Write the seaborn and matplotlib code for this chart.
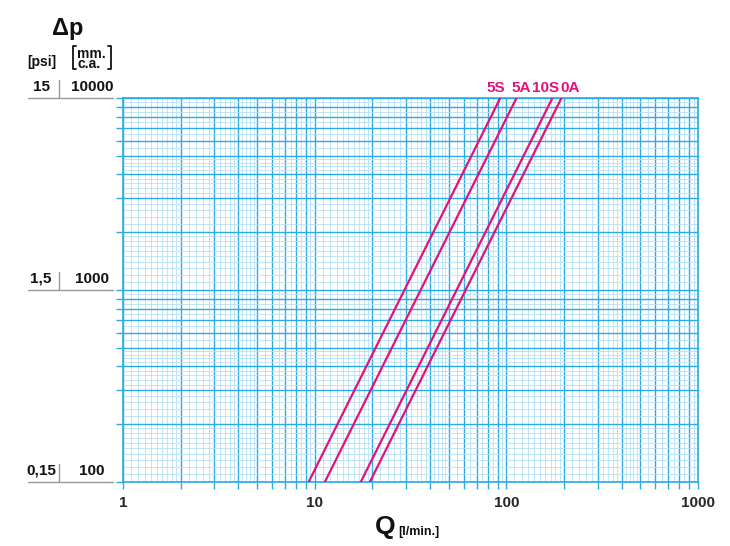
import numpy as np
import pandas as pd
import matplotlib
matplotlib.use("Agg")
import matplotlib.pyplot as plt
import seaborn as sns
from matplotlib.ticker import FixedLocator, FuncFormatter, NullFormatter
from matplotlib.lines import Line2D
import matplotlib.transforms as mtransforms

# ---- data ----
series = ["5S", "5A", "10S", "0A"]
q_low = [9.3, 11.3, 17.4, 19.4]       # Q [l/min] at dp = 100 mm c.a.
q_high = [93, 113, 174, 194]           # Q [l/min] at dp = 10000 mm c.a.
dp_low = [100, 100, 100, 100]
dp_high = [10000, 10000, 10000, 10000]
label_q = [88, 119, 161, 215]          # x position of series labels
x_ticklabels = ["1", "10", "100", "1000"]
mm_labels = ["100", "1000", "10000"]
psi_labels = ["0,15", "1,5", "15"]
mm_values = [100, 1000, 10000]

MAG = "#E2127A"
BLUE = "#2AABE2"
LBLUE = "#B3E1F6"

rows = []
for s, a, b, c, d in zip(series, q_low, q_high, dp_low, dp_high):
    rows.append({"series": s, "Q": a, "dp": c})
    rows.append({"series": s, "Q": b, "dp": d})
df = pd.DataFrame(rows)

sns.set_theme(style="white")
plt.rcParams['font.family'] = ['Liberation Sans', 'DejaVu Sans']

W, H = 730, 546
fig = plt.figure(figsize=(W / 100, H / 100), dpi=100)
fx = lambda px: px / W
fy = lambda py: 1 - py / H

ax = fig.add_axes([fx(123), fy(482), (698 - 123) / W, (482 - 98) / H])
ax.set_xscale('log')
ax.set_yscale('log')

# grid positions
def majors(lo, hi):
    out = []
    d = lo
    while d < hi:
        out += [k * d for k in range(1, 10)]
        d *= 10
    out.append(hi)
    return out

def minors(lo, hi):
    out = []
    d = lo
    while d < hi:
        out += list(np.arange(1.1, 2.0, 0.1) * d)
        out += list(np.arange(2.2, 5.0, 0.2) * d)
        out += list(np.arange(5.5, 10.0, 0.5) * d)
        d *= 10
    return out

xmaj = majors(1, 1000)
ymaj = majors(100, 10000)
xmin = [v for v in minors(1, 1000) if all(abs(v - m) > 1e-6 * m for m in xmaj)]
ymin = [v for v in minors(100, 10000) if all(abs(v - m) > 1e-6 * m for m in ymaj)]

ax.xaxis.set_major_locator(FixedLocator(xmaj))
ax.xaxis.set_minor_locator(FixedLocator(xmin))
ax.yaxis.set_major_locator(FixedLocator(ymaj))
ax.yaxis.set_minor_locator(FixedLocator(ymin))

ax.grid(which='minor', color=LBLUE, lw=0.6, zorder=0)
ax.grid(which='major', color=BLUE, lw=1.0, zorder=1)
ax.set_axisbelow(True)

sns.lineplot(data=df, x="Q", y="dp", hue="series", palette=[MAG] * 4,
             legend=False, estimator=None, sort=False, lw=1.6, ax=ax, zorder=5)

ax.set_xlim(1, 1000)
ax.set_ylim(100, 10000)

def xfmt(v, pos):
    for lab in x_ticklabels:
        if abs(v - float(lab)) < 1e-6:
            return lab
    return ""

ax.xaxis.set_major_formatter(FuncFormatter(xfmt))
ax.xaxis.set_minor_formatter(NullFormatter())
ax.yaxis.set_major_formatter(NullFormatter())
ax.yaxis.set_minor_formatter(NullFormatter())
ax.tick_params(which='major', direction='out', length=5, width=1.0, color=BLUE,
               pad=5, labelsize=11)
ax.tick_params(which='minor', length=0)
for lab in ax.get_xticklabels():
    lab.set_fontweight('bold')
ax.tick_params(axis='x', bottom=True)
ax.tick_params(axis='y', left=True)
for sp in ax.spines.values():
    sp.set_color(BLUE)
    sp.set_linewidth(1.2)
ax.set_xlabel("")
ax.set_ylabel("")

# series labels
for s, q in zip(series, label_q):
    ax.text(q, 1.027, s, transform=ax.get_xaxis_transform(), ha='center',
            va='center', color=MAG, fontsize=11, fontweight='bold', clip_on=False)

# left axis labels
trans = mtransforms.blended_transform_factory(fig.transFigure, ax.transData)
for p, m, v in zip(psi_labels, mm_labels, mm_values):
    ax.text(fx(41), v * 1.05, p, transform=trans, ha='center', va='bottom',
            fontsize=11, fontweight='bold', color='#111111', clip_on=False)
    ax.text(fx(92), v * 1.05, m, transform=trans, ha='center', va='bottom',
            fontsize=11, fontweight='bold', color='#111111', clip_on=False)
    ax.add_line(Line2D([fx(28), fx(113)], [v, v], transform=trans, color='#999999',
                       lw=1.0, clip_on=False))
    ax.add_line(Line2D([fx(59), fx(59)], [v, v * 1.24], transform=trans, color='#999999',
                       lw=1.0, clip_on=False))

# header
fig.text(fx(68), fy(28), "Δp", ha='center', va='center', fontsize=17,
         fontweight='bold', color='#111111')
fig.text(fx(42), fy(62), "[psi]", ha='center', va='center', fontsize=10,
         fontweight='bold', color='#111111')
fig.text(fx(77), fy(47), "mm.\nc.a.", ha='left', va='top', fontsize=10,
         linespacing=0.62, fontweight='bold', color='#111111')
for xs in ([76, 73, 73, 76], [108, 111, 111, 108]):
    fig.add_artist(Line2D([fx(x) for x in xs], [fy(46), fy(46), fy(69), fy(69)],
                          color='#111111', lw=1.3))

# x title
fig.text(fx(385), fy(527), "Q", ha='center', va='center', fontsize=19,
         fontweight='bold', color='#111111')
fig.text(fx(398), fy(535), "[l/min.]", ha='left', va='baseline', fontsize=9,
         fontweight='bold', color='#111111')

fig.savefig("out.png", dpi=100)
